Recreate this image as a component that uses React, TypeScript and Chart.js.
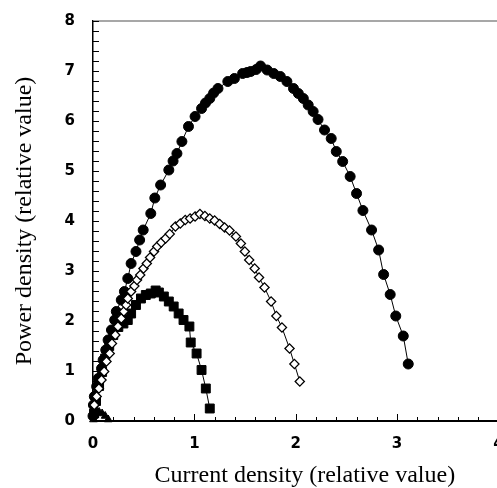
import { useEffect, useRef } from 'react';
import { Chart, registerables } from 'chart.js';

Chart.register(...registerables);

// Filled circles series
const circleX = [0.0, 0.004, 0.013, 0.036, 0.051, 0.084, 0.1, 0.126, 0.149, 0.182, 0.214, 0.23, 0.279, 0.31, 0.343, 0.376, 0.424, 0.46, 0.495, 0.57, 0.61, 0.667, 0.748, 0.79, 0.828, 0.877, 0.942, 1.007, 1.071, 1.11, 1.152, 1.19, 1.233, 1.33, 1.395, 1.476, 1.52, 1.556, 1.61, 1.653, 1.718, 1.783, 1.848, 1.913, 1.978, 2.026, 2.075, 2.123, 2.172, 2.22, 2.284, 2.35, 2.4, 2.463, 2.537, 2.6, 2.663, 2.748, 2.818, 2.867, 2.932, 2.987, 3.061, 3.11];
const circleY = [0.1, 0.32, 0.49, 0.69, 0.85, 1.05, 1.22, 1.42, 1.62, 1.82, 2.02, 2.19, 2.42, 2.59, 2.85, 3.15, 3.39, 3.62, 3.82, 4.15, 4.46, 4.72, 5.02, 5.2, 5.35, 5.59, 5.89, 6.09, 6.25, 6.36, 6.45, 6.56, 6.65, 6.79, 6.85, 6.95, 6.97, 6.99, 7.03, 7.1, 7.02, 6.95, 6.89, 6.79, 6.65, 6.55, 6.45, 6.32, 6.19, 6.03, 5.82, 5.65, 5.39, 5.19, 4.89, 4.55, 4.21, 3.82, 3.42, 2.93, 2.53, 2.1, 1.7, 1.14];

// Open diamonds series
const diamondX = [0.013, 0.036, 0.058, 0.084, 0.11, 0.133, 0.165, 0.187, 0.22, 0.246, 0.279, 0.304, 0.327, 0.343, 0.376, 0.408, 0.434, 0.466, 0.498, 0.531, 0.563, 0.602, 0.634, 0.673, 0.716, 0.757, 0.813, 0.861, 0.91, 0.958, 1.007, 1.055, 1.104, 1.152, 1.2, 1.25, 1.298, 1.347, 1.41, 1.459, 1.498, 1.541, 1.595, 1.638, 1.692, 1.757, 1.809, 1.864, 1.939, 1.987, 2.04];
const diamondY = [0.32, 0.49, 0.65, 0.82, 0.99, 1.19, 1.35, 1.55, 1.72, 1.89, 2.05, 2.19, 2.32, 2.45, 2.59, 2.7, 2.82, 2.92, 3.05, 3.15, 3.27, 3.39, 3.49, 3.57, 3.65, 3.74, 3.89, 3.95, 4.02, 4.05, 4.09, 4.14, 4.1, 4.05, 4.01, 3.94, 3.87, 3.81, 3.69, 3.55, 3.39, 3.22, 3.05, 2.87, 2.67, 2.39, 2.1, 1.87, 1.45, 1.14, 0.79];

// Filled squares series
const squareX = [0.01, 0.03, 0.06, 0.09, 0.12, 0.16, 0.2, 0.25, 0.3, 0.343, 0.376, 0.424, 0.473, 0.521, 0.57, 0.618, 0.65, 0.699, 0.748, 0.796, 0.845, 0.893, 0.951, 0.964, 1.022, 1.071, 1.113, 1.152];
const squareY = [0.15, 0.4, 0.7, 0.98, 1.25, 1.5, 1.72, 1.88, 1.95, 2.02, 2.15, 2.32, 2.45, 2.52, 2.55, 2.61, 2.57, 2.49, 2.39, 2.29, 2.15, 2.02, 1.89, 1.57, 1.35, 1.02, 0.65, 0.25];

// Filled triangles series
const triangleX = [0.005, 0.02, 0.04, 0.06, 0.09, 0.12, 0.15];
const triangleY = [0.03, 0.12, 0.17, 0.18, 0.15, 0.1, 0.03];

const xTickLabels = ['0', '1', '2', '3', '4'];
const yTickLabels = ['0', '1', '2', '3', '4', '5', '6', '7', '8'];

const isInt = (v: number) => Math.abs(v - Math.round(v)) < 1e-6;
const pts = (xs: number[], ys: number[]) => xs.map((x, i) => ({ x, y: ys[i] }));

export default function App() {
  const ref = useRef<HTMLCanvasElement>(null);

  useEffect(() => {
    if (!ref.current) return;

    const axisDecor = {
      id: 'axisDecor',
      beforeDatasetsDraw(chart: any) {
        const { ctx, chartArea: a, scales } = chart;
        const xs = scales.x;
        const ys = scales.y;
        ctx.save();
        ctx.strokeStyle = '#8a8a8a';
        ctx.lineWidth = 1.5;
        ctx.beginPath();
        ctx.moveTo(a.left, a.top);
        ctx.lineTo(a.right, a.top);
        ctx.stroke();
        ctx.strokeStyle = '#000';
        ctx.lineWidth = 1;
        ctx.beginPath();
        xs.ticks.forEach((t: any) => {
          if (t.value === 0) return;
          const px = Math.round(xs.getPixelForValue(t.value)) + 0.5;
          ctx.moveTo(px, a.bottom);
          ctx.lineTo(px, a.bottom - (isInt(t.value) ? 7 : 4));
        });
        ys.ticks.forEach((t: any) => {
          if (t.value === 0) return;
          const py = Math.round(ys.getPixelForValue(t.value)) + 0.5;
          ctx.moveTo(a.left, py);
          ctx.lineTo(a.left + 6, py);
        });
        ctx.stroke();
        ctx.restore();
      },
    };

    const tickFont = { family: 'DejaVu Sans', size: 15, weight: 'bold' as const };
    const titleFont = { family: 'Liberation Serif', size: 24, lineHeight: 1 };

    const chart = new Chart(ref.current, {
      type: 'scatter',
      data: {
        datasets: [
          {
            data: pts(triangleX, triangleY),
            showLine: true,
            borderColor: '#000',
            borderWidth: 1,
            pointStyle: 'triangle',
            pointRadius: 4.5,
            pointBackgroundColor: '#000',
            pointBorderColor: '#000',
            clip: false as any,
          },
          {
            data: pts(diamondX, diamondY),
            showLine: true,
            borderColor: '#000',
            borderWidth: 1,
            pointStyle: 'rectRot',
            pointRadius: 4.6,
            pointBackgroundColor: '#fff',
            pointBorderColor: '#000',
            pointBorderWidth: 1.3,
            clip: false as any,
          },
          {
            data: pts(squareX, squareY),
            showLine: true,
            borderColor: '#000',
            borderWidth: 1,
            pointStyle: 'rect',
            pointRadius: 6.3,
            pointBackgroundColor: '#000',
            pointBorderColor: '#000',
            clip: false as any,
          },
          {
            data: pts(circleX, circleY),
            showLine: true,
            borderColor: '#000',
            borderWidth: 1,
            pointStyle: 'circle',
            pointRadius: 5,
            pointBackgroundColor: '#000',
            pointBorderColor: '#000',
            clip: false as any,
          },
        ],
      },
      options: {
        responsive: false,
        animation: false,
        devicePixelRatio: 1,
        layout: { padding: { top: 21, left: 0, right: 0, bottom: 0 } },
        plugins: { legend: { display: false }, tooltip: { enabled: false } },
        scales: {
          x: {
            type: 'linear',
            min: 0,
            max: 4.18,
            grid: { display: false, drawTicks: false },
            border: { display: true, color: '#000', width: 2 },
            ticks: {
              stepSize: 0.2,
              includeBounds: false,
              autoSkip: false,
              maxRotation: 0,
              padding: 14,
              color: '#000',
              font: tickFont,
              callback: (v: any) => (isInt(Number(v)) ? xTickLabels[Math.round(Number(v))] ?? '' : ''),
            },
            title: {
              display: true,
              text: 'Current density (relative value)',
              color: '#000',
              font: titleFont,
              padding: { top: 0, bottom: 0 },
            },
            afterFit: (s: any) => {
              s.height = 67;
              s.paddingLeft = 0;
              s.paddingRight = 0;
            },
          },
          y: {
            type: 'linear',
            min: 0,
            max: 8,
            grid: { display: false, drawTicks: false },
            border: { display: true, color: '#000', width: 1.5 },
            ticks: {
              stepSize: 0.2,
              includeBounds: false,
              autoSkip: false,
              padding: 18,
              color: '#000',
              font: tickFont,
              callback: (v: any) => (isInt(Number(v)) ? yTickLabels[Math.round(Number(v))] ?? '' : ''),
            },
            title: {
              display: true,
              text: 'Power density (relative value)',
              color: '#000',
              font: titleFont,
              padding: { top: 13, bottom: 0 },
            },
            afterFit: (s: any) => {
              s.width = 93;
              s.paddingTop = 0;
              s.paddingBottom = 0;
            },
          },
        },
      },
      plugins: [axisDecor],
    });

    return () => chart.destroy();
  }, []);

  return (
    <div style={{ position: 'absolute', left: 0, top: 0, width: 497, height: 488, overflow: 'hidden', background: '#fff' }}>
      <canvas ref={ref} width={524} height={488} style={{ display: 'block' }} />
    </div>
  );
}
